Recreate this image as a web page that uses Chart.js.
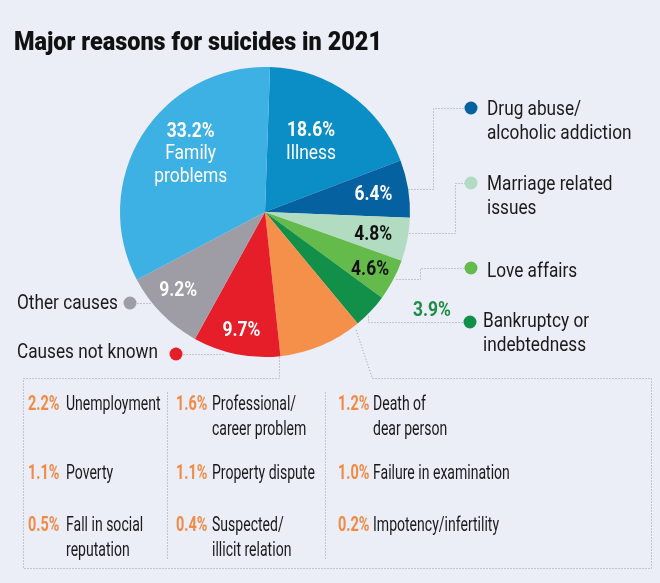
<!DOCTYPE html>
<html lang="en">
<head>
<meta charset="UTF-8">
<title>Major reasons for suicides in 2021</title>
<script src="https://cdn.jsdelivr.net/npm/chart.js"></script>
<style>
    body { margin: 0; background: #ebedf7; }
    .container { position: relative; width: 660px; height: 583px; }
</style>
</head>
<body>
<div class="container">
    <canvas id="graficoPizza" width="660" height="583"></canvas>
</div>

<script>
    // data (share of suicides, %)
    const categories = ['Illness', 'Drug abuse/\nalcoholic addiction', 'Marriage related\nissues', 'Love affairs',
        'Bankruptcy or\nindebtedness', 'Smaller causes', 'Causes not known', 'Other causes', 'Family problems'];
    const shares = [18.6, 6.4, 4.8, 4.6, 3.9, 9.3, 9.7, 9.2, 33.2];
    const sliceColors = ['#0b8ec5', '#0561a0', '#b2dcc2', '#64ba4a', '#12904a', '#f5904a', '#e61e29', '#9e9da5', '#3db0e4'];

    // the smaller causes that make up the orange slice
    const smallCauses = ['Unemployment', 'Professional/\ncareer problem', 'Death of\ndear person',
        'Poverty', 'Property dispute', 'Failure in examination',
        'Fall in social\nreputation', 'Suspected/\nillicit relation', 'Impotency/infertility'];
    const smallShares = [2.2, 1.6, 1.2, 1.1, 1.1, 1.0, 0.5, 0.4, 0.2];

    // labels inside the slices: [text under the %, colour, radius fraction, angle nudge in degrees]
    const insideLabels = [
        ['Illness', '#fff', 0.59, -3],
        ['', '#fff', 0.76, -1],
        ['', '#111', 0.76, 0],
        ['', '#111', 0.82, 0],
        null,
        null,
        ['', '#fff', 0.82, 0],
        ['', '#fff', 0.80, 3],
        ['Family\nproblems', '#fff', 0.66, 7]
    ];

    // outside labels: slice index -> [text x, text y, dot x, dot y, align]
    const outsideLabels = [
        [1, 487, 108, 471, 108, 'left'],
        [2, 487, 183, 471, 183, 'left'],
        [3, 487, 270, 471, 268, 'left'],
        [4, 483, 320, 470, 322, 'left'],
        [7, 118, 302, 130, 303, 'right'],
        [6, 158, 351, 176, 354, 'right']
    ];

    const leaderLines = [
        [[408, 189], [433, 189], [433, 108], [465, 108]],
        [[409, 233], [455, 233], [455, 183], [465, 183]],
        [[396, 279], [420, 279], [420, 268], [465, 268]],
        [[368, 316], [368, 322], [464, 322]],
        [[137, 303], [151, 303]],
        [[183, 354], [224, 354]],
        [[279, 357], [279, 378], [23, 378], [23, 568], [651, 568], [651, 378], [372, 378], [355, 328]],
        [[167, 392], [167, 560]],
        [[325, 392], [325, 560]]
    ];

    const boxCols = [[28, 66], [176, 212], [338, 373]];
    const boxRows = [403, 472, 524];

    const FONT = 'Roboto';

    function escreve(ctx, s, x, y, size, weight, color, align, sx) {
        ctx.save();
        ctx.font = weight + ' ' + size + 'px ' + FONT;
        ctx.fillStyle = color;
        ctx.textAlign = align;
        ctx.textBaseline = 'alphabetic';
        ctx.translate(x, y + size * 0.36);
        ctx.scale(sx, 1);
        ctx.fillText(s, 0, 0);
        ctx.restore();
    }

    const rotulos = {
        id: 'rotulos',
        afterDraw(chart) {
            const ctx = chart.ctx;
            const arcs = chart.getDatasetMeta(0).data;

            // title, squeezed to the width of the original
            ctx.save();
            ctx.font = '900 25px ' + FONT;
            const w = ctx.measureText('Major reasons for suicides in 2021').width;
            ctx.restore();
            escreve(ctx, 'Major reasons for suicides in 2021', 14, 40.5, 25, '900', '#111', 'left', 368 / w);

            // dotted leader lines and box
            ctx.save();
            ctx.strokeStyle = '#9a9aa2';
            ctx.lineWidth = 1;
            ctx.setLineDash([1, 2]);
            leaderLines.forEach(function (pts) {
                ctx.beginPath();
                pts.forEach(function (p, k) {
                    if (k === 0) ctx.moveTo(p[0] + 0.5, p[1] + 0.5);
                    else ctx.lineTo(p[0] + 0.5, p[1] + 0.5);
                });
                ctx.stroke();
            });
            ctx.restore();

            // labels inside slices
            arcs.forEach(function (arc, i) {
                const lab = insideLabels[i];
                if (!lab) return;
                const mid = (arc.startAngle + arc.endAngle) / 2 + lab[3] * Math.PI / 180;
                const r = arc.outerRadius * lab[2];
                const x = arc.x + Math.cos(mid) * r;
                const y = arc.y + Math.sin(mid) * r;
                const lines = [shares[i].toFixed(1) + '%'].concat(lab[0] ? lab[0].split('\n') : []);
                const top = y - (lines.length - 1) * 22.5 / 2;
                lines.forEach(function (t, k) {
                    escreve(ctx, t, x, top + k * 22.5, 21, k === 0 ? 'bold' : 'normal', lab[1], 'center', 0.83);
                });
            });

            // outside labels with dots
            outsideLabels.forEach(function (o) {
                const i = o[0];
                ctx.beginPath();
                ctx.arc(o[3], o[4], 6.5, 0, Math.PI * 2);
                ctx.fillStyle = sliceColors[i];
                ctx.fill();
                categories[i].split('\n').forEach(function (t, k) {
                    escreve(ctx, t, o[1], o[2] + k * 24, 20.5, 'normal', '#1a1a1a', o[5], 0.84);
                });
            });
            escreve(ctx, shares[4].toFixed(1) + '%', 432, 308, 21, 'bold', '#1d8c45', 'center', 0.83);

            // box of smaller causes
            smallCauses.forEach(function (nome, i) {
                const c = boxCols[i % 3];
                const y = boxRows[Math.floor(i / 3)];
                escreve(ctx, smallShares[i].toFixed(1) + '%', c[0], y, 19.5, 'bold', '#f08a44', 'left', 0.74);
                nome.split('\n').forEach(function (t, k) {
                    escreve(ctx, t, c[1], y + k * 24.5, 19.5, 'normal', '#1a1a1a', 'left', 0.72);
                });
            });
        }
    };

    const grafico = document.getElementById('graficoPizza');
    new Chart(grafico, {
        type: 'pie',
        data: {
            labels: categories,
            datasets: [{
                data: shares,
                backgroundColor: sliceColors,
                borderWidth: 0,
                hoverOffset: 0,
                offset: 0
            }]
        },
        options: {
            responsive: false,
            animation: false,
            events: [],
            rotation: 2,
            layout: { padding: { left: 120, top: 67, right: 250, bottom: 226 } },
            plugins: {
                legend: { display: false },
                tooltip: { enabled: false }
            }
        },
        plugins: [rotulos]
    });
</script>
</body>
</html>
